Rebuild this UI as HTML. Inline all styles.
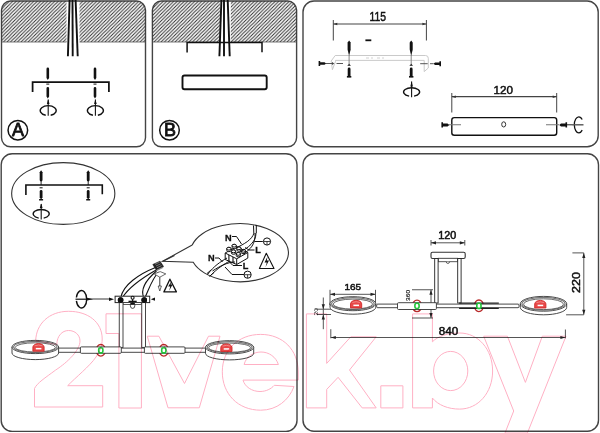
<!DOCTYPE html>
<html><head><meta charset="utf-8"><style>
html,body{margin:0;padding:0;background:#fff;width:600px;height:433px;overflow:hidden}
svg{display:block}
text{font-family:"Liberation Sans",sans-serif}
</style></head><body>
<svg width="600" height="433" viewBox="0 0 600 433">
<defs>
<pattern id="hat" patternUnits="userSpaceOnUse" width="3.5" height="3.5">
<path d="M-1,1 L1,-1 M0,3.5 L3.5,0 M2.5,4.5 L4.5,2.5" stroke="#2a2a2a" stroke-width="0.95"/>
</pattern>
<clipPath id="cA"><rect x="1.5" y="1" width="144" height="145.8" rx="9"/></clipPath>
<clipPath id="cB"><rect x="152.4" y="1" width="144.2" height="145.8" rx="9"/></clipPath>
</defs>
<g fill="none" stroke="#444" stroke-width="1.4">
<rect x="1.5" y="1" width="144" height="145.8" rx="9"/>
<rect x="152.4" y="1" width="144.2" height="145.8" rx="9"/>
<rect x="303" y="1" width="295.2" height="145.8" rx="11"/>
<rect x="1.2" y="153.7" width="295.8" height="277.7" rx="11"/>
<rect x="303" y="153.7" width="295.5" height="277.6" rx="11"/>
</g>
<g clip-path="url(#cA)">
<rect x="0" y="0" width="66.5" height="42" fill="url(#hat)"/>
<rect x="79.5" y="0" width="70" height="42" fill="url(#hat)"/>
<line x1="0" y1="42" x2="66.5" y2="42" stroke="#555" stroke-width="0.8"/>
<line x1="79.5" y1="42" x2="150" y2="42" stroke="#555" stroke-width="0.8"/>
</g>
<g clip-path="url(#cB)">
<rect x="150" y="0" width="70" height="42" fill="url(#hat)"/>
<rect x="230.8" y="0" width="70" height="42" fill="url(#hat)"/>
<line x1="150" y1="42" x2="220" y2="42" stroke="#555" stroke-width="0.8"/>
<line x1="230.8" y1="42" x2="300" y2="42" stroke="#555" stroke-width="0.8"/>
</g>
<g stroke="#111" stroke-width="1.9" fill="none">
<line x1="69.6" y1="0" x2="67.9" y2="56.3"/><line x1="72.5" y1="0" x2="72.7" y2="56.3"/><line x1="75.6" y1="0" x2="77.7" y2="56.3"/>
<path d="M32.6,92 V82.2 H108.9 V92" stroke-width="1.75"/>
</g>
<path d="M46.50,68.90 a1.30,1.30 0 0 1 2.60,0 V78.00 L47.80,80.00 L46.50,78.00 Z" fill="#111"/>
<rect x="46.3" y="83.6" width="3" height="1" fill="#111"/>
<path d="M46.50,88.30 a1.30,1.30 0 0 1 2.60,0 V96.40 L47.80,98.40 L46.50,96.40 Z" fill="#111"/>
<path d="M45.73,115.26 A8,4.9 0 1 1 50.67,115.26" fill="none" stroke="#111" stroke-width="1.35"/><line x1="48.199999999999996" y1="99.5" x2="48.199999999999996" y2="115.8" stroke="#111" stroke-width="1.1"/>
<path d="M46.9,104 L48.199999999999996,99.3 L49.5,104 Z" fill="#111"/>
<path d="M93.70,68.90 a1.30,1.30 0 0 1 2.60,0 V78.00 L95.00,80.00 L93.70,78.00 Z" fill="#111"/>
<rect x="93.5" y="83.6" width="3" height="1" fill="#111"/>
<path d="M93.70,88.30 a1.30,1.30 0 0 1 2.60,0 V96.40 L95.00,98.40 L93.70,96.40 Z" fill="#111"/>
<path d="M92.93,115.26 A8,4.9 0 1 1 97.87,115.26" fill="none" stroke="#111" stroke-width="1.35"/><line x1="95.4" y1="99.5" x2="95.4" y2="115.8" stroke="#111" stroke-width="1.1"/>
<path d="M94.1,104 L95.4,99.3 L96.7,104 Z" fill="#111"/>
<circle cx="17.85" cy="130.2" r="9.8" fill="none" stroke="#111" stroke-width="1.5"/>
<text x="18.1" y="136.3" font-size="18" text-anchor="middle" fill="#111" stroke="#111" stroke-width="0.8">A</text>
<g stroke="#111" stroke-width="1.9" fill="none">
<line x1="221.4" y1="0" x2="219.4" y2="56.3"/><line x1="224" y1="0" x2="224" y2="56.3"/><line x1="227.7" y1="0" x2="229.7" y2="56.3"/>
<path d="M187.1,52.5 V42.6 H262 V52.3" stroke-width="1.5"/>
<rect x="182.5" y="75.5" width="84.2" height="13.7" rx="2"/>
</g>
<circle cx="169.5" cy="130.2" r="9.8" fill="none" stroke="#111" stroke-width="1.5"/>
<text x="169.9" y="136.3" font-size="18" text-anchor="middle" fill="#111" stroke="#111" stroke-width="0.8">B</text>
<g stroke="#444" stroke-width="1" fill="none"><line x1="333.3" y1="24" x2="426.4" y2="24" stroke-width="1.2"/><line x1="333.3" y1="20" x2="333.3" y2="40.5"/><line x1="426.4" y1="20" x2="426.4" y2="40.5"/></g><path d="M333.3,24 l4,-1.3 v2.6 Z M426.4,24 l-4,-1.3 v2.6 Z" fill="#333"/><text x="377.7" y="21" font-size="12.3" text-anchor="middle" fill="#111" stroke="#111" stroke-width="0.5" textLength="16.5" lengthAdjust="spacingAndGlyphs">115</text>
<line x1="365.4" y1="40.3" x2="371.3" y2="40.3" stroke="#111" stroke-width="1.8"/>
<g fill="none" stroke="#c4c4c4" stroke-width="0.9">
<path d="M335.2,55.5 H425.5 Q428.3,55.5 428.3,58.3 V68 L424.2,71.6 V60.4 H335.5 M335.2,55.5 L331.2,61 L332.4,69.7 L335.5,61.5 V60.4"/>
<path d="M366,58 h3 M371,58 h2 M377,58 h3 M382,58 h2" stroke="#ccc"/>
</g>
<path d="M347.60,49.00 a1.50,1.50 0 0 0 3.00,0 V42.60 L349.10,40.60 L347.60,42.60 Z" fill="#111"/>
<path d="M347.6,49.5 L349.1,56 L350.6,49.5 Z" fill="#111"/>
<line x1="349.1" y1="55" x2="349.1" y2="64" stroke="#777" stroke-width="0.9"/>
<path d="M347.3,65.8 L349.1,63.8 L350.90000000000003,65.8 Z" fill="#111"/>
<path d="M347.70,68.90 a1.40,1.40 0 0 1 2.80,0 V75.30 L349.10,77.30 L347.70,75.30 Z" fill="#111"/>
<rect x="346.90000000000003" y="76" width="4.4" height="1.6" fill="#111"/>
<path d="M409.70,49.00 a1.50,1.50 0 0 0 3.00,0 V42.60 L411.20,40.60 L409.70,42.60 Z" fill="#111"/>
<path d="M409.7,49.5 L411.2,56 L412.7,49.5 Z" fill="#111"/>
<line x1="411.2" y1="55" x2="411.2" y2="64" stroke="#777" stroke-width="0.9"/>
<path d="M409.4,65.8 L411.2,63.8 L413.0,65.8 Z" fill="#111"/>
<path d="M409.80,68.90 a1.40,1.40 0 0 1 2.80,0 V75.30 L411.20,77.30 L409.80,75.30 Z" fill="#111"/>
<rect x="409.0" y="76" width="4.4" height="1.6" fill="#111"/>
<path d="M409.13,96.09 A8,4.3 0 1 1 414.07,96.09" fill="none" stroke="#111" stroke-width="1.35"/><line x1="411.6" y1="81.5" x2="411.6" y2="97.3" stroke="#111" stroke-width="1.1"/>
<path d="M410.3,86.5 L411.6,81.3 L412.9,86.5 Z" fill="#111"/>
<path d="M318.6,61 V66 H320.2 V64.8 H324.5 L326.2,63.5 L324.5,62.2 H320.2 V61 Z" fill="#111"/>
<path d="M326,63.5 H332 M336.5,63.5 H343" stroke="#444" stroke-width="0.9"/>
<path d="M332,62 L334.3,63.5 L332,65 Z" fill="#444"/>
<path d="M441,61.2 V66.2 H439.4 V65 H435.1 L433.4,63.7 L435.1,62.4 H439.4 V61.2 Z" fill="#111"/>
<path d="M420.2,63.7 H427.7 M430,63.7 H433.5" stroke="#444" stroke-width="0.9"/>
<g stroke="#444" stroke-width="1" fill="none"><line x1="451.8" y1="96.7" x2="556.7" y2="96.7" stroke-width="1.2"/><line x1="451.8" y1="93" x2="451.8" y2="112.5"/><line x1="556.7" y1="93" x2="556.7" y2="112.5"/></g><path d="M451.8,96.7 l4,-1.3 v2.6 Z M556.7,96.7 l-4,-1.3 v2.6 Z" fill="#333"/><text x="503.3" y="94.2" font-size="11.6" text-anchor="middle" fill="#111" stroke="#111" stroke-width="0.5" textLength="19.5" lengthAdjust="spacingAndGlyphs">120</text>
<rect x="451.8" y="117.6" width="104.9" height="17.6" rx="2.5" fill="none" stroke="#111" stroke-width="1.4"/>
<ellipse cx="503.7" cy="124.4" rx="2" ry="2.6" fill="none" stroke="#333" stroke-width="1"/>
<path d="M449,124.8 H461 M546,124.8 H559" stroke="#777" stroke-width="1.1"/>
<path d="M441.4,122.2 V127.6 H443 V126.4 H447.5 L449.3,124.9 L447.5,123.4 H443 V122.2 Z" fill="#111"/>
<path d="M567.1,122.2 V127.6 H565.5 V126.4 H561 L559.2,124.9 L561,123.4 H565.5 V122.2 Z" fill="#111"/>
<path d="M567,124.8 H572" stroke="#222" stroke-width="1"/>
<path d="M582.2,119.5 A4.5,8 0 1 0 582.2,130.1" fill="none" stroke="#111" stroke-width="1.3"/>
<line x1="572" y1="124.8" x2="583.5" y2="124.8" stroke="#555" stroke-width="1.4"/>
<ellipse cx="63.25" cy="193.5" rx="51.6" ry="30.9" fill="none" stroke="#333" stroke-width="1.1"/>
<path d="M25.9,195 V185 H102.3 V194.3" fill="none" stroke="#111" stroke-width="1.6"/>
<path d="M39.70,180.10 a1.40,1.40 0 0 0 2.80,0 V172.20 L41.10,170.20 L39.70,172.20 Z" fill="#111"/>
<line x1="41.1" y1="180" x2="41.1" y2="185" stroke="#111" stroke-width="0.9"/>
<rect x="39.6" y="187.3" width="3" height="1" fill="#111"/>
<path d="M39.70,191.40 a1.40,1.40 0 0 1 2.80,0 V197.50 L41.10,199.50 L39.70,197.50 Z" fill="#111"/>
<rect x="39.1" y="199" width="4" height="1.5" fill="#111"/>
<path d="M86.80,180.10 a1.40,1.40 0 0 0 2.80,0 V172.20 L88.20,170.20 L86.80,172.20 Z" fill="#111"/>
<line x1="88.2" y1="180" x2="88.2" y2="185" stroke="#111" stroke-width="0.9"/>
<rect x="86.7" y="187.3" width="3" height="1" fill="#111"/>
<path d="M86.80,191.40 a1.40,1.40 0 0 1 2.80,0 V197.50 L88.20,199.50 L86.80,197.50 Z" fill="#111"/>
<rect x="86.2" y="199" width="4" height="1.5" fill="#111"/>
<path d="M38.73,218.08 A8,4.4 0 1 1 43.67,218.08" fill="none" stroke="#111" stroke-width="1.35"/><line x1="41.2" y1="204" x2="41.2" y2="219.5" stroke="#111" stroke-width="1.1"/>
<path d="M39.8,208 L41.2,203.5 L42.6,208 Z" fill="#111"/>
<path d="M192.2,245 A49,29 0 1 1 193.2,262.3 L162.6,261.3 L192.2,245" fill="#fff" stroke="#333" stroke-width="1.1"/>
<path d="M162.5,261.5 L174.5,255.5" stroke="#333" stroke-width="1.1"/>
<g stroke="#111" stroke-width="1" fill="#fff">
<path d="M225.2,253 L236.7,246.5 L247.8,252.5 L247.8,258.1 L236.7,264.5 L225.2,259.5 Z"/>
<path d="M225.2,253 L236.7,258.8 L247.8,252.5 M236.7,258.8 V264.5" fill="none"/>
<path d="M228.9,255 V261.3 M233,257 V263" fill="none" stroke-width="1.1"/>
<path d="M226.8,250.3 V248.70000000000002 A2.1,1.4 0 0 1 231.0,248.70000000000002 V250.3 A2.1,1.4 0 0 1 226.8,250.3 Z"/>
<ellipse cx="228.9" cy="248.70000000000002" rx="2.1" ry="1.4"/>
<path d="M231.4,252.9 V251.3 A2.1,1.4 0 0 1 235.6,251.3 V252.9 A2.1,1.4 0 0 1 231.4,252.9 Z"/>
<ellipse cx="233.5" cy="251.3" rx="2.1" ry="1.4"/>
<path d="M236.20000000000002,255.5 V253.9 A2.1,1.4 0 0 1 240.4,253.9 V255.5 A2.1,1.4 0 0 1 236.20000000000002,255.5 Z"/>
<ellipse cx="238.3" cy="253.9" rx="2.1" ry="1.4"/>
<path d="M232.1,247.3 V245.70000000000002 A2.1,1.4 0 0 1 236.29999999999998,245.70000000000002 V247.3 A2.1,1.4 0 0 1 232.1,247.3 Z"/>
<ellipse cx="234.2" cy="245.70000000000002" rx="2.1" ry="1.4"/>
<path d="M236.8,249.9 V248.3 A2.1,1.4 0 0 1 241.0,248.3 V249.9 A2.1,1.4 0 0 1 236.8,249.9 Z"/>
<ellipse cx="238.9" cy="248.3" rx="2.1" ry="1.4"/>
<path d="M241.20000000000002,252.4 V250.8 A2.1,1.4 0 0 1 245.4,250.8 V252.4 A2.1,1.4 0 0 1 241.20000000000002,252.4 Z"/>
<ellipse cx="243.3" cy="250.8" rx="2.1" ry="1.4"/>
</g>
<g fill="none" stroke="#111" stroke-width="1">
<path d="M253.5,225.5 L253.8,233 M256.3,225 L256.3,233"/>
<path d="M254,233 C252,240 244,244 236,248 M256,233 C256,242 248,248 240,252 M255,233 C256,244 250,250 243,254"/>
<path d="M207.5,274.5 C214,266 220,262 227,258 M210,276 C218,268 224,264 230,261 M212.5,271 C220,266 228,262 235,262"/>
<path d="M207,273.5 L211,270 M209.5,276.5 L214,272.5"/>
<path d="M232,236.5 H236.5 L241.5,244 M254.5,250 H249 L245,247.5 M242,265.5 H233 L229,261.5 M215,258 H219 L222.5,262 M244,274.5 H232 L225,267 M254.5,241.5 H262.8"/>
</g>
<g font-size="9.2" font-weight="bold" fill="#111" stroke="#111" stroke-width="0.3" text-anchor="middle">
<text x="228.4" y="241.3">N</text><text x="211.4" y="261.3">N</text><text x="258" y="252.9">L</text><text x="245.5" y="268.8">L</text>
</g>
<circle cx="267" cy="241.5" r="3.6" fill="#fff" stroke="#111" stroke-width="1"/>
<path d="M263.6,241.5 H270.4 M267,241.5 V244.9" stroke="#111" stroke-width="0.8"/>
<circle cx="247.6" cy="274.7" r="3.6" fill="#fff" stroke="#111" stroke-width="1"/>
<path d="M244.2,274.7 H251.0 M247.6,274.7 V278.09999999999997" stroke="#111" stroke-width="0.8"/>
<path d="M266.3,253.2 L274,268.5 L259.4,268.5 Z" fill="#fff" stroke="#111" stroke-width="1.1" stroke-linejoin="round"/>
<path d="M267.5,256.5 L264.5,262.5 L266.8,262.5 L265.5,267 L269,260.5 L266.8,260.5 Z" fill="#111"/>
<g fill="none" stroke="#333" stroke-width="0.9">
<path d="M120.8,297.5 C123,285 139,274 155.5,267.5 M122.5,297.5 C129,287 142,278 157,269.5" stroke="#111" stroke-width="1.1"/>
<path d="M143.8,297.5 C140,289 146,280 156.5,271 M145,297.5 C149,289 152,279 158.5,272" stroke="#111" stroke-width="1.1"/>
<path d="M154.2,273.9 L160.2,271.6 L165.8,273.9 L159.8,277.2 Z" fill="#fff" stroke="#444" stroke-width="0.8"/>
<path d="M159.8,277.2 V287" stroke="#222"/>
</g>
<path d="M158.2,286 L159.8,291 L161.4,286 Z" fill="#fff" stroke="#222" stroke-width="0.7"/>
<path d="M152.8,264.5 L160,261.2 L163.5,266.5 L156.3,270 Z" fill="#222" stroke="#111" stroke-width="0.6"/>
<path d="M155,264.3 L159.6,262.2 M156,266 L160.6,263.9 M157,267.7 L161.6,265.6" stroke="#999" stroke-width="0.7"/>
<path d="M156.3,270 L163.5,266.5 L163,268 L156.5,271.3 Z" fill="#888"/>
<path d="M169.9,279.2 L176.4,291.9 L163.9,291.9 Z" fill="#fff" stroke="#111" stroke-width="1.3" stroke-linejoin="round"/>
<path d="M171.2,281.6 L168.2,286.6 L170.2,286.6 L169.2,290.8 L172.6,284.6 L170.6,284.6 Z" fill="#111"/>
<rect x="115.1" y="296.2" width="34.6" height="6.4" fill="#fff" stroke="#222" stroke-width="1"/>
<rect x="123" y="302.6" width="18.3" height="1.8" fill="#fff" stroke="#333" stroke-width="0.8"/>
<circle cx="120.6" cy="300.1" r="2.8" fill="#111"/><circle cx="144.2" cy="300.1" r="2.8" fill="#111"/>
<circle cx="132.6" cy="297.8" r="1.5" fill="#fff" stroke="#111" stroke-width="1.1"/>
<path d="M128.5,301.4 H136.7" stroke="#111" stroke-width="1.4"/><path d="M132.6,299.3 V302.5" stroke="#111" stroke-width="1.2"/>
<path d="M130.4,304.2 H134.8 V305.8 A2.2,2.6 0 0 1 130.4,305.8 Z" fill="#fff" stroke="#222" stroke-width="0.8"/><path d="M130.4,302.8 H134.8 V304.6 H130.4 Z" fill="#111"/>
<path d="M86,299 H111" stroke="#222" stroke-width="0.9"/><path d="M114,299.2 L109,297.4 V301 Z M150.8,299.2 L155,297.6 V300.8 Z" fill="#111"/>
<path d="M76.4,297.5 A5.2,8.7 0 1 1 76.4,300.9" fill="none" stroke="#111" stroke-width="1.4"/>
<line x1="75.5" y1="299.2" x2="88" y2="299.2" stroke="#111" stroke-width="1.2"/><path d="M87,297.8 L93,299.2 L87,300.6 Z" fill="#111"/>
<g fill="#fff" stroke="#333" stroke-width="0.9">
<rect x="119.25" y="302.6" width="3.75" height="44.8"/><rect x="141.75" y="302.6" width="3.75" height="44.8"/>
</g>
<circle cx="120.6" cy="300.1" r="2.8" fill="#111"/><circle cx="144.2" cy="300.1" r="2.8" fill="#111"/>
<ellipse cx="100.8" cy="350.3" rx="4.6" ry="5.8" fill="#fff" stroke="#b82a2a" stroke-width="1.3"/><ellipse cx="163.8" cy="350.3" rx="4.6" ry="5.8" fill="#fff" stroke="#b82a2a" stroke-width="1.3"/>
<rect x="58" y="348.09999999999997" width="149" height="4.2" rx="1" fill="#fff" stroke="#333" stroke-width="0.9"/>
<rect x="80.4" y="346.90000000000003" width="40.89999999999999" height="6.4" rx="1" fill="#fff" stroke="#333" stroke-width="0.9"/>
<rect x="144.4" y="346.90000000000003" width="40.599999999999994" height="6.4" rx="1" fill="#fff" stroke="#333" stroke-width="0.9"/>
<rect x="98.7" y="347.7" width="4.2" height="5.2" rx="2" fill="#fff" stroke="#22c53a" stroke-width="1.6"/>
<rect x="161.70000000000002" y="347.7" width="4.2" height="5.2" rx="2" fill="#fff" stroke="#22c53a" stroke-width="1.6"/>
<path d="M11.999999999999996,347 V353 A23.3,6.6 0 0 0 58.599999999999994,353 V347" fill="#fff" stroke="#333" stroke-width="0.9"/><ellipse cx="35.3" cy="347" rx="23.3" ry="6.6" fill="#fff" stroke="#333" stroke-width="0.9"/><ellipse cx="35.3" cy="347" rx="21.7" ry="5.6" fill="none" stroke="#777" stroke-width="1.2"/><ellipse cx="35.3" cy="347.4" rx="20.1" ry="4.6" fill="#fff" stroke="#444" stroke-width="0.8"/><path d="M32.9,351.2 V347.1 A5.6,3.5 0 0 1 44.1,347.1 V351.2 Z" fill="#e84848" stroke="#d02a2a" stroke-width="0.9"/><rect x="35.8" y="347.9" width="5.6" height="1.5" fill="#fff"/><path d="M34.7,345.8 Q38.5,344.20000000000005 42.3,345.8" fill="none" stroke="#f7b0b0" stroke-width="0.6"/>
<path d="M205.5,347.3 V353.3 A24.1,6.6 0 0 0 253.7,353.3 V347.3" fill="#fff" stroke="#333" stroke-width="0.9"/><ellipse cx="229.6" cy="347.3" rx="24.1" ry="6.6" fill="#fff" stroke="#333" stroke-width="0.9"/><ellipse cx="229.6" cy="347.3" rx="22.5" ry="5.6" fill="none" stroke="#777" stroke-width="1.2"/><ellipse cx="229.6" cy="347.7" rx="20.900000000000002" ry="4.6" fill="#fff" stroke="#444" stroke-width="0.8"/><path d="M220.8,351.5 V347.40000000000003 A5.6,3.5 0 0 1 232.0,347.40000000000003 V351.5 Z" fill="#e84848" stroke="#d02a2a" stroke-width="0.9"/><rect x="223.70000000000002" y="348.2" width="5.6" height="1.5" fill="#fff"/><path d="M222.6,346.1 Q226.4,344.50000000000006 230.20000000000002,346.1" fill="none" stroke="#f7b0b0" stroke-width="0.6"/>
<g fill="none" stroke="#555" stroke-width="1">
<path d="M431,242.8 H464.8 M431,240 V245.5 M464.8,240 V245.5"/>
<path d="M330,294.3 H375.5 M330,289.8 V305 M375.5,289.8 V305"/>
<path d="M323.3,297.5 V329.2 M315,309.2 H331 M317,314.5 H331"/>
<path d="M431,289.75 V318 M412,289.75 H433 M412,318 H433"/>
<path d="M583.8,252.9 V314.8 M572.4,252.9 H583.8 M566.1,314.8 H583.8"/>
<path d="M330.8,329.2 V338.3 M330.8,337.5 H565.4 M565.4,329.5 V338.3"/>
</g>
<path d="M431,242.8 L436,241.20000000000002 L436,244.4 Z" fill="#222"/><path d="M464.8,242.8 L459.8,241.20000000000002 L459.8,244.4 Z" fill="#222"/>
<path d="M330,294.3 L335,292.7 L335,295.90000000000003 Z" fill="#222"/><path d="M375.5,294.3 L370.5,292.7 L370.5,295.90000000000003 Z" fill="#222"/>
<path d="M323.3,309.2 L321.7,304.2 L324.90000000000003,304.2 Z" fill="#222"/><path d="M323.3,314.5 L321.7,319.5 L324.90000000000003,319.5 Z" fill="#222"/>
<path d="M431,289.75 L429.4,294.75 L432.6,294.75 Z" fill="#222"/><path d="M431,318 L429.4,313 L432.6,313 Z" fill="#222"/>
<path d="M583.8,252.9 L582.1999999999999,257.9 L585.4,257.9 Z" fill="#222"/><path d="M583.8,314.8 L582.1999999999999,309.8 L585.4,309.8 Z" fill="#222"/>
<path d="M330.8,337.5 L335.8,335.9 L335.8,339.1 Z" fill="#222"/><path d="M565.4,337.5 L560.4,335.9 L560.4,339.1 Z" fill="#222"/>
<g fill="#111" text-anchor="middle" stroke="#111" stroke-width="0.5">
<text x="447.3" y="238.6" font-size="10.2" textLength="18" lengthAdjust="spacingAndGlyphs">120</text>
<text x="352.8" y="290.4" font-size="9.8" textLength="16.6" lengthAdjust="spacingAndGlyphs">165</text>
<text x="448.5" y="335" font-size="10.8" textLength="19.5" lengthAdjust="spacingAndGlyphs">840</text>
<text transform="translate(579.7,282.6) rotate(-90)" font-size="11.5" textLength="20.8" lengthAdjust="spacingAndGlyphs">220</text>
<text transform="translate(318.3,311.7) rotate(-90)" font-size="6.2" stroke-width="0" textLength="7.5" lengthAdjust="spacingAndGlyphs">20</text>
<text transform="translate(410.3,295.4) rotate(-90)" font-size="5.8" stroke-width="0.15" textLength="11" lengthAdjust="spacingAndGlyphs">360</text>
</g>
<rect x="431" y="252.2" width="34.2" height="6.3" rx="1.5" fill="#fff" stroke="#333" stroke-width="1.1"/>
<rect x="438.3" y="258.3" width="19.2" height="3.4" fill="#fff" stroke="#444" stroke-width="0.9"/>
<path d="M446.3,261.7 A1.6,1.7 0 0 0 449.5,261.7" fill="#fff" stroke="#444" stroke-width="0.9"/>
<rect x="434.7" y="258.5" width="3.4" height="44.5" fill="#fff" stroke="#222" stroke-width="0.9"/>
<rect x="457.7" y="258.5" width="3.4" height="44.5" fill="#fff" stroke="#222" stroke-width="0.9"/>
<ellipse cx="417" cy="305.9" rx="4.6" ry="5.8" fill="#fff" stroke="#b82a2a" stroke-width="1.3"/><ellipse cx="478.9" cy="305.8" rx="4.6" ry="5.8" fill="#fff" stroke="#b82a2a" stroke-width="1.3"/>
<rect x="376.7" y="304.09999999999997" width="142.3" height="3.6" rx="1" fill="#fff" stroke="#333" stroke-width="0.9"/>
<rect x="397.5" y="302.70000000000005" width="38.89999999999998" height="6.8" rx="1" fill="#fff" stroke="#333" stroke-width="0.9"/>
<path d="M459.1,303.1 H498.8 M459.1,308.4 H498.8" stroke="#222" stroke-width="1.1"/>
<rect x="414.9" y="303.29999999999995" width="4.2" height="5.2" rx="2" fill="#fff" stroke="#22c53a" stroke-width="1.6"/>
<rect x="476.79999999999995" y="303.2" width="4.2" height="5.2" rx="2" fill="#fff" stroke="#22c53a" stroke-width="1.6"/>
<path d="M330.0,303.7 V307.2 A22.9,7 0 0 0 375.79999999999995,307.2 V303.7" fill="#fff" stroke="#333" stroke-width="0.9"/><ellipse cx="352.9" cy="303.7" rx="22.9" ry="7" fill="#fff" stroke="#333" stroke-width="0.9"/><ellipse cx="352.9" cy="303.7" rx="21.299999999999997" ry="6.0" fill="none" stroke="#777" stroke-width="1.2"/><ellipse cx="352.9" cy="304.09999999999997" rx="19.7" ry="5.0" fill="#fff" stroke="#444" stroke-width="0.8"/><path d="M350.49999999999994,307.9 V303.8 A5.6,3.5 0 0 1 361.7,303.8 V307.9 Z" fill="#e84848" stroke="#d02a2a" stroke-width="0.9"/><rect x="353.4" y="304.59999999999997" width="5.6" height="1.5" fill="#fff"/><path d="M352.29999999999995,302.5 Q356.09999999999997,300.90000000000003 359.9,302.5" fill="none" stroke="#f7b0b0" stroke-width="0.6"/>
<path d="M520.3,303.8 V307.40000000000003 A23.2,7.4 0 0 0 566.7,307.40000000000003 V303.8" fill="#fff" stroke="#333" stroke-width="0.9"/><ellipse cx="543.5" cy="303.8" rx="23.2" ry="7.4" fill="#fff" stroke="#333" stroke-width="0.9"/><ellipse cx="543.5" cy="303.8" rx="21.599999999999998" ry="6.4" fill="none" stroke="#777" stroke-width="1.2"/><ellipse cx="543.5" cy="304.2" rx="20.0" ry="5.4" fill="#fff" stroke="#444" stroke-width="0.8"/><path d="M534.6999999999999,308.0 V303.90000000000003 A5.6,3.5 0 0 1 545.9,303.90000000000003 V308.0 Z" fill="#e84848" stroke="#d02a2a" stroke-width="0.9"/><rect x="537.5999999999999" y="304.7" width="5.6" height="1.5" fill="#fff"/><path d="M536.5,302.6 Q540.3,301.00000000000006 544.0999999999999,302.6" fill="none" stroke="#f7b0b0" stroke-width="0.6"/>
<g fill="none" stroke="#ffb0c4" stroke-width="1" stroke-linejoin="miter" style="mix-blend-mode:multiply">
<path d="M34.5,407 H102.7 V385.7 H67.7 C75,378 90,366 96,357 C100,351 102.2,346 102.2,339 C102.2,322 88,311.3 68.6,311.3 C49,311.3 36,324 35.7,341 L56.8,344.5 C57,336 62,330.5 68.6,330.5 C75,330.5 80,335 80,341 C80,350 68,362 55.7,370 C45,378 37,383 34.5,388.5 Z"/>
<path d="M118.9,408 V333.5 H106 V313.8 H141.4 V408 Z"/>
<path d="M147.3,336.2 H158.9 L184.5,383.5 L208.5,336.2 H220 L199.3,407.8 H168 Z"/>
<path d="M222.3,371.8 C222.3,350 238,334.4 260.7,334.4 C283,334.4 298.2,350 298.2,372 V380.1 H243 C245,387 252,391.5 260,391.5 C266,391.5 271,389 274.3,385.3 L294,386.5 C289,400 277,410.2 260.7,410.2 C238,410.2 222.3,394 222.3,371.8 Z M244.1,364.5 H278.4 C276,357 269,352 261,352 C253,352 246,357 244.1,364.5 Z"/>
<path d="M306.4,313.9 H326.7 V363.4 L350.8,336.8 H376.2 L349.5,370 L376.2,407.9 H362.2 L338.1,377.3 L326.7,389.4 V407.9 H306.4 Z"/>
<path d="M380.8,385.8 H402.9 V407.9 H380.8 Z"/>
<path d="M412.6,313.9 H432.4 V341.8 C438,336 448,333 459.6,333 C478,333 492.6,349 492.6,371 C492.6,393 478,409.1 459.6,409.1 C448,409.1 438,405 432.4,398 V407.9 H412.6 Z"/>
<ellipse cx="450.7" cy="371" rx="17.1" ry="19.6"/>
<path d="M483.7,336.2 H507.4 L525.4,382.4 L542.3,336.2 H566 L527.4,433 H505 L513.7,411 Z"/>
</g>
</svg>
</body></html>
